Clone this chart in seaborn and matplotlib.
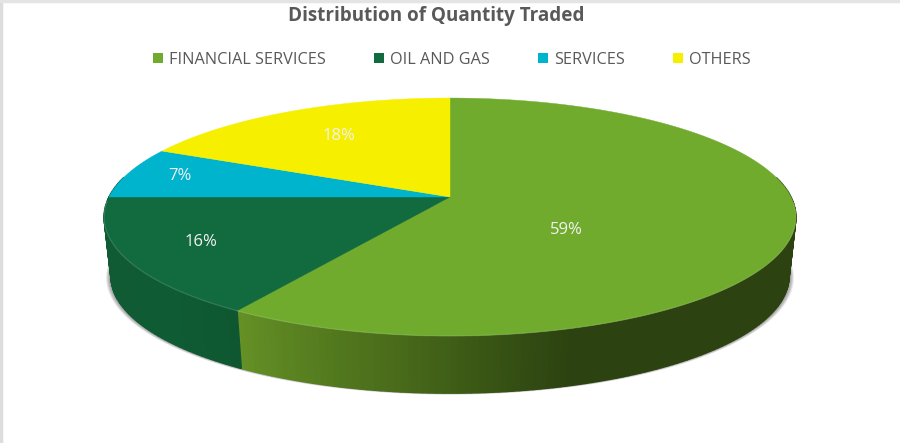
import numpy as np
import matplotlib
matplotlib.use('Agg')
import matplotlib.pyplot as plt
from matplotlib.patches import Patch
import seaborn as sns

sectors = ['FINANCIAL SERVICES', 'OIL AND GAS', 'SERVICES', 'OTHERS']
shares = [59, 16, 7, 18]
top_hex = ['#70AB2E', '#126A3F', '#00B4CE', '#F6EF00']

label_x = [566, 201, 180, 339]
label_y = [228, 240, 174, 134]

# geometry of the tilted disc, in pixels
CX, CY = 450, 197
SX, SY, K = 341, 115.6, 0.168
DEPTH, SHRINK = 60, 0.98


def project(deg, r=1.0, bottom=False):
    # clockwise from 12 o'clock, with a bit of perspective
    t = np.radians(deg)
    u, v = r * np.sin(t), r * np.cos(t)
    w = 1 + K * v
    x, y = SX * u / w, SY * v / w
    if bottom:
        return CX + x * SHRINK, CY - y * SHRINK + DEPTH
    return CX + x, CY - y


def wall_color(name, x):
    if name == 'FINANCIAL SERVICES':
        stops = [231, 300, 400, 500, 570, 800]
        reds = [0x66, 0x58, 0x48, 0x37, 0x2C, 0x2C]
        greens = [0x92, 0x80, 0x6A, 0x52, 0x42, 0x42]
        blues = [0x26, 0x20, 0x1A, 0x14, 0x10, 0x10]
    else:
        stops = [100, 170, 236]
        reds = [0x10, 0x0F, 0x0E]
        greens = [0x5B, 0x5B, 0x57]
        blues = [0x34, 0x34, 0x31]
    return (np.interp(x, stops, reds) / 255, np.interp(x, stops, greens) / 255,
            np.interp(x, stops, blues) / 255)


sns.set_theme(style='white')
plt.rcParams['font.family'] = ['Open Sans', 'DejaVu Sans']
palette = sns.color_palette(top_hex)

fig, ax = plt.subplots(figsize=(9, 4.43), dpi=100)
fig.subplots_adjust(0, 0, 1, 1)
ax.set_xlim(0, 900)
ax.set_ylim(443, 0)
ax.axis('off')

ax.plot([1, 1], [0, 443], color='#DDDDDD', lw=2.5, zorder=1)
ax.plot([0, 900], [1, 1], color='#E4E4E4', lw=2.5, zorder=1)

edges = np.cumsum([0] + shares) / sum(shares) * 360

# soft shadow under the wall, pushed out to the sides
angles = np.linspace(60, 300, 200)
for spread in np.linspace(5, 0.5, 7):
    bx, by = project(angles, bottom=True)
    ax.fill(bx + spread * np.sign(bx - CX) * np.abs(np.sin(np.radians(angles))), by + 0.3 * spread,
            color='black', alpha=0.075, lw=0, zorder=2)

# side wall, drawn as thin strips so the shade can change along it
for name, start, end in zip(sectors, edges[:-1], edges[1:]):
    a0, a1 = max(start, 80), min(end, 280)
    if a0 >= a1:
        continue
    steps = np.arange(a0, a1 + 1, 1.0)
    for p, q in zip(steps[:-1], steps[1:]):
        x1, y1 = project(p)
        x2, y2 = project(q)
        x3, y3 = project(q, bottom=True)
        x4, y4 = project(p, bottom=True)
        col = wall_color(name, (x1 + x2) / 2)
        ax.fill([x1, x2, x3, x4], [y1, y2, y3, y4], color=col, lw=1.0, zorder=3)

# top of the disc
for start, end, col in zip(edges[:-1], edges[1:], palette):
    arc = np.linspace(start, end, 200)
    px, py = project(arc)
    ax.fill(np.r_[CX, px], np.r_[CY, py], color=col, lw=0.3, zorder=4)
    rim = arc[(arc > 92) & (arc < 268)]
    if len(rim):
        rx, ry = project(rim)
        ax.plot(rx, ry, color='white', alpha=0.14, lw=0.9, zorder=5)

for share, x, y in zip(shares, label_x, label_y):
    ax.text(x, y + 2, f'{share}%', color='#F2F2F2', fontsize=12, ha='center', va='center', zorder=6)

ax.text(436.5, 16, 'Distribution of Quantity Traded', color='#595959', fontsize=13.6,
        fontweight='bold', ha='center', va='center')

handles = [Patch(facecolor=c, edgecolor='none') for c in palette]
ax.legend(handles, sectors, ncol=4, loc='center', bbox_to_anchor=(0.502, 60 / 443 * -1 + 1),
          frameon=False, fontsize=11.7, labelcolor='#595959', handlelength=0.6, handleheight=0.6,
          handletextpad=0.4, columnspacing=2.95)

fig.savefig('out.png', dpi=100)
